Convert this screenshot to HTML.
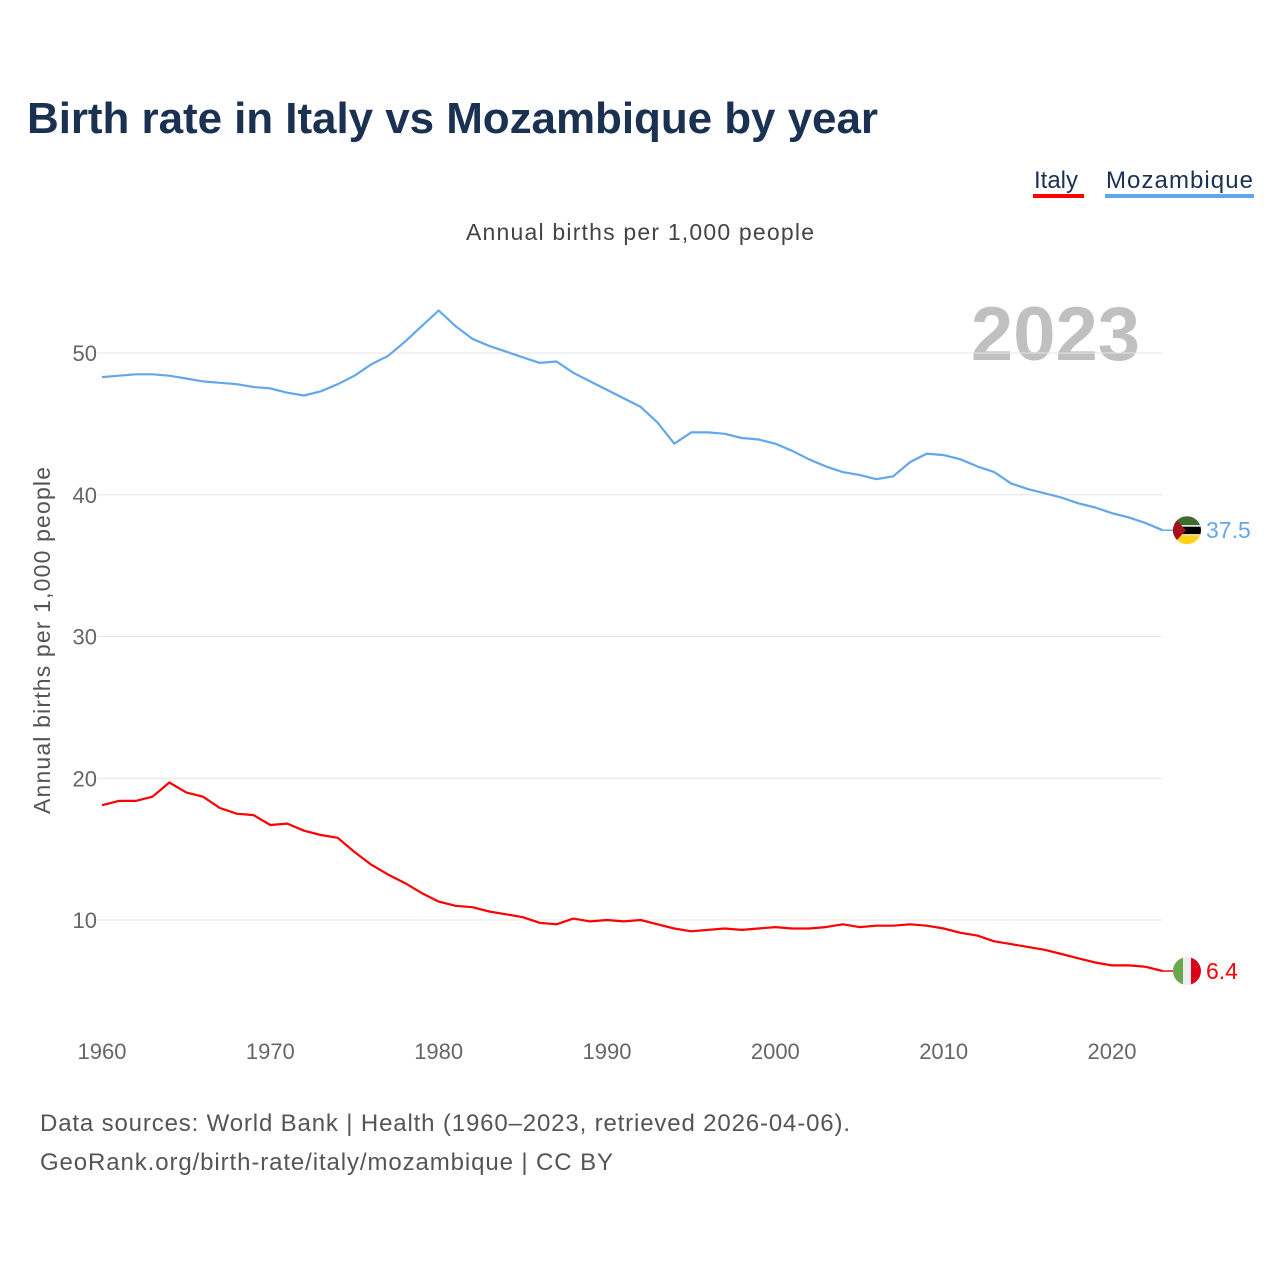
<!DOCTYPE html>
<html><head><meta charset="utf-8">
<style>
body{margin:0;background:#fff;font-family:"Liberation Sans",sans-serif;}
#wrap{position:relative;width:1280px;height:1280px;overflow:hidden;}
</style></head>
<body>
<div id="wrap">
<svg id="chart" width="1280" height="1280">
  <text x="27" y="133" font-size="44" font-weight="bold" fill="#1a3152" textLength="851">Birth rate in Italy vs Mozambique by year</text>
  <g>
    <text x="1034" y="188" font-size="24" fill="#1a3152">Italy</text>
    <rect x="1033" y="194" width="51" height="4" fill="#ff0000"/>
  </g>
  <g>
    <text x="1106" y="188" font-size="24" fill="#1a3152" textLength="147">Mozambique</text>
    <rect x="1105" y="194" width="149" height="4" fill="#63a7ea"/>
  </g>
  <text x="466" y="240" font-size="23" fill="#444" textLength="348">Annual births per 1,000 people</text>
  <text x="1140" y="360" text-anchor="end" font-size="76" font-weight="bold" fill="#c0c0c0">2023</text>
  <text transform="translate(50,814) rotate(-90)" font-size="23" fill="#555" textLength="347">Annual births per 1,000 people</text>
  <g id="grid"></g>
  <g id="lines"></g>
  <g id="ends"></g>
  <text x="40" y="1131" font-size="24" fill="#555" textLength="810">Data sources: World Bank | Health (1960–2023, retrieved 2026-04-06).</text>
  <text x="40" y="1170" font-size="24" fill="#555" textLength="573">GeoRank.org/birth-rate/italy/mozambique | CC BY</text>
</svg>
</div>
<script>
const years = [];
for (let y = 1960; y <= 2023; y++) years.push(y);
const mozambique = [48.3,48.4,48.5,48.5,48.4,48.2,48.0,47.9,47.8,47.6,47.5,47.2,47.0,47.3,47.8,48.4,49.2,49.8,50.8,51.9,53.0,51.9,51.0,50.5,50.1,49.7,49.3,49.4,48.6,48.0,47.4,46.8,46.2,45.1,43.6,44.4,44.4,44.3,44.0,43.9,43.6,43.1,42.5,42.0,41.6,41.4,41.1,41.3,42.3,42.9,42.8,42.5,42.0,41.6,40.8,40.4,40.1,39.8,39.4,39.1,38.7,38.4,38.0,37.5];
const italy = [18.1,18.4,18.4,18.7,19.7,19.0,18.7,17.9,17.5,17.4,16.7,16.8,16.3,16.0,15.8,14.8,13.9,13.2,12.6,11.9,11.3,11.0,10.9,10.6,10.4,10.2,9.8,9.7,10.1,9.9,10.0,9.9,10.0,9.7,9.4,9.2,9.3,9.4,9.3,9.4,9.5,9.4,9.4,9.5,9.7,9.5,9.6,9.6,9.7,9.6,9.4,9.1,8.9,8.5,8.3,8.1,7.9,7.6,7.3,7.0,6.8,6.8,6.7,6.4];
const yTicks = [10,20,30,40,50];
const xTicks = [1960,1970,1980,1990,2000,2010,2020];

const NS = "http://www.w3.org/2000/svg";
const xs = y => 102 + (y - 1960) * (1010 / 60);
const ys = v => 920 - (v - 10) * 14.175;
function mk(tag, attrs, parent){const e=document.createElementNS(NS,tag);for(const k in attrs)e.setAttribute(k,attrs[k]);parent.appendChild(e);return e;}
const grid=document.getElementById('grid'), lines=document.getElementById('lines'), ends=document.getElementById('ends');
yTicks.forEach(t=>{
  const l=mk('line',{x1:98,x2:1162,y1:ys(t),y2:ys(t),stroke:'#e6e6e6','stroke-width':1},grid);
  
  
  const tx=mk('text',{x:97,y:ys(t)+8,'text-anchor':'end','font-size':22,fill:'#666'},grid);
  tx.textContent=t;
  
  
});
xTicks.forEach(t=>{
  const tx=mk('text',{x:xs(t),y:1059,'text-anchor':'middle','font-size':22,fill:'#666'},grid);
  tx.textContent=t;
  
  
});
function line(vals,color,name){
  const d=vals.map((v,i)=>(i?'L':'M')+xs(years[i]).toFixed(1)+','+ys(v).toFixed(1)).join('');
  const p=mk('path',{d:d,fill:'none',stroke:color,'stroke-width':2.2,'stroke-linejoin':'round'},lines);
  
  
}
line(mozambique,'#63a7ea','mozambique-line');
line(italy,'#ff0000','italy-line');

function endFlag(val,color,name,stripes){
  const cy=ys(val), cx=1187;
  const g=mk('g',{},ends);
  
  
  mk('line',{x1:xs(2023),x2:cx,y1:cy,y2:cy,stroke:color,'stroke-width':1.5},g);
  const cid='clip-'+name;
  const cp=mk('clipPath',{id:cid},g); mk('circle',{cx:cx,cy:cy,r:14},cp);
  const fg=mk('g',{'clip-path':'url(#'+cid+')'},g);
  stripes(fg,cx,cy);
  const t=mk('text',{x:1206,y:cy+8,'font-size':23,fill:color},g);
  t.textContent=val;
}
endFlag(mozambique[mozambique.length-1],'#63a7ea','mozambique',(g,cx,cy)=>{
  mk('rect',{x:cx-14,y:cy-14,width:28,height:10,fill:'#3f6b2e'},g);
  mk('rect',{x:cx-14,y:cy-4,width:28,height:9,fill:'#000'},g);
  mk('rect',{x:cx-14,y:cy-5,width:28,height:1.5,fill:'#fff'},g);
  mk('rect',{x:cx-14,y:cy+4,width:28,height:1.5,fill:'#fff'},g);
  mk('rect',{x:cx-14,y:cy+5,width:28,height:10,fill:'#fcd116'},g);
  mk('polygon',{points:(cx-14)+','+(cy-14)+' '+(cx-1)+','+cy+' '+(cx-14)+','+(cy+14),fill:'#a3111f'},g);
});
endFlag(italy[italy.length-1],'#ff0000','italy',(g,cx,cy)=>{
  mk('rect',{x:cx-14,y:cy-14,width:10,height:28,fill:'#6aa84f'},g);
  mk('rect',{x:cx-4,y:cy-14,width:8,height:28,fill:'#eee'},g);
  mk('rect',{x:cx+4,y:cy-14,width:10,height:28,fill:'#d9001b'},g);
});
</script>
</body></html>
